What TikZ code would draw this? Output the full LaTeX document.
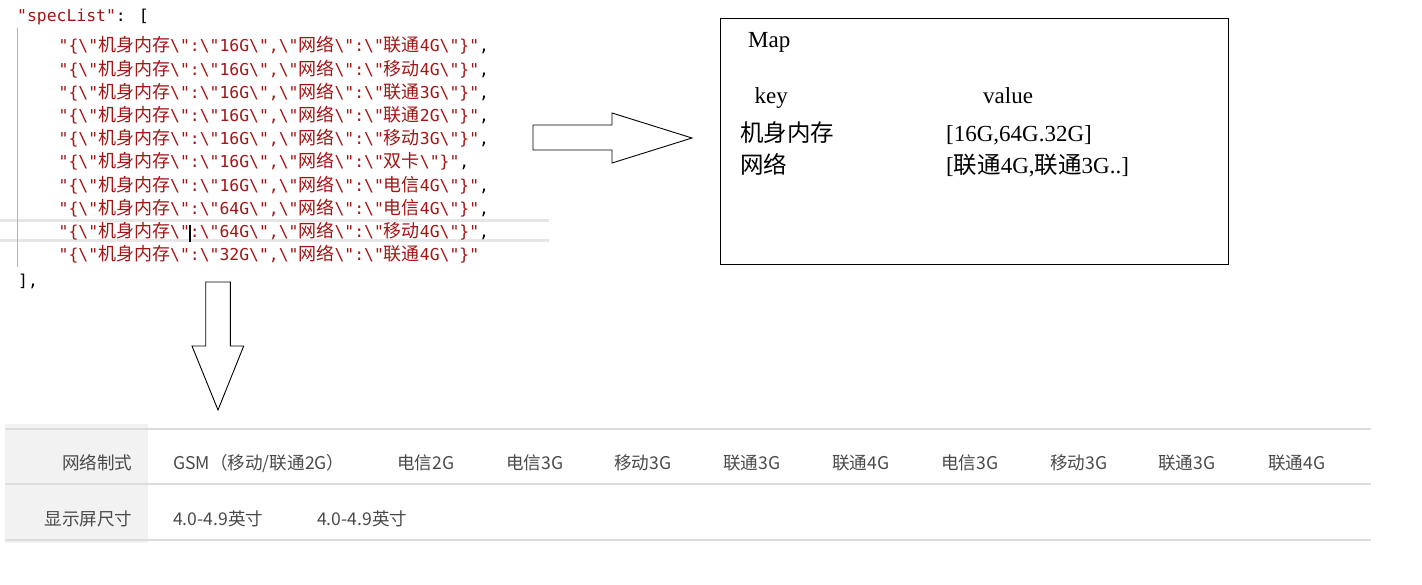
\documentclass[tikz,border=0pt]{standalone}
\usepackage{fontspec}
\setmainfont{Liberation Serif}
\newfontfamily\codefont{DejaVu Sans Mono}[Ligatures=TeXOff]
\newfontfamily\cjkfont{Noto Sans CJK SC}[Ligatures=TeXOff]
\newfontfamily\mapfont{Liberation Serif}[Ligatures=TeXOff]
\definecolor{codered}{HTML}{A31515}
\definecolor{guide}{HTML}{B4B4B4}
\definecolor{hl}{HTML}{E6E6E6}
\definecolor{tline}{HTML}{DCDCDC}
\definecolor{tfill}{HTML}{F2F2F2}
\definecolor{ttext}{HTML}{4A4A4A}
\newcommand\cj[1]{{\cjkfont\fontsize{18}{18}\selectfont #1}}
\newcommand\mc[1]{{\cjkfont\fontsize{23.5}{23.5}\selectfont #1}}
\newcommand\jq{\textbackslash"}
\newcommand\specline[3]{\textcolor{codered}{"\{\jq\cj{机身内存}\jq:\jq #1\jq,\jq\cj{网络}\jq:\jq #2\jq\}"}#3}
\tikzset{
  codetxt/.style={anchor=base west, inner sep=0pt, font=\codefont\fontsize{16.4}{18}\selectfont},
  maptxt/.style={anchor=base west, inner sep=0pt, font=\mapfont\fontsize{23}{23}\selectfont},
  ttxt/.style={anchor=base west, inner sep=0pt, text=ttext, font=\cjkfont\fontsize{17.6}{17.6}\selectfont},
  hdtxt/.style={ttxt, anchor=base east},
  blockarrow/.style={draw=black, line width=0.9pt, line join=miter},
  tablerule/.style={draw=tline, line width=2pt},
}
\begin{document}
\begin{tikzpicture}[x=1pt, y=-1pt]
\useasboundingbox (0,0) rectangle (1422,584);
\fill[white] (0,0) rectangle (1422,584);

% editor current-line highlight and indent guide
\draw[hl, line width=2.5pt] (0,220.3) -- (549,220.3);
\draw[hl, line width=2.5pt] (0,240.7) -- (549,240.7);
\draw[guide, line width=1.6pt] (17.5,28) -- (17.5,267);

% code
\node[codetxt] (spec) at (17,21) {\textcolor{codered}{"specList"}: [};
\node[codetxt] (l1) at (58.5,51.8) {\specline{16G}{\cj{联通}4G}{,}};
\node[codetxt] (l2) at (58.5,75.0) {\specline{16G}{\cj{移动}4G}{,}};
\node[codetxt] (l3) at (58.5,98.2) {\specline{16G}{\cj{联通}3G}{,}};
\node[codetxt] (l4) at (58.5,121.4) {\specline{16G}{\cj{联通}2G}{,}};
\node[codetxt] (l5) at (58.5,144.6) {\specline{16G}{\cj{移动}3G}{,}};
\node[codetxt] (l6) at (58.5,167.8) {\specline{16G}{\cj{双卡}}{,}};
\node[codetxt] (l7) at (58.5,191.0) {\specline{16G}{\cj{电信}4G}{,}};
\node[codetxt] (l8) at (58.5,214.2) {\specline{64G}{\cj{电信}4G}{,}};
\node[codetxt] (l9) at (58.5,237.4) {\textcolor{codered}{"\{\jq\cj{机身内存}\jq\rlap{\kern-1.3pt\textcolor{black}{\rule[-5pt]{2.6pt}{17pt}}}:\jq 64G\jq,\jq\cj{网络}\jq:\jq\cj{移动}4G\jq\}"},};
\node[codetxt] (l10) at (58.5,260.6) {\specline{32G}{\cj{联通}4G}{}};
\node[codetxt] (close) at (18,286) {],};

% right block arrow
\draw[blockarrow] (533,125) -- (612,125) -- (612,113) -- (692,138) -- (612,163) -- (612,150) -- (533,150) -- cycle;
% down block arrow
\draw[blockarrow] (205.7,282) -- (230.3,282) -- (230.3,346) -- (243.7,346) -- (218,410) -- (192,346) -- (205.7,346) -- cycle;

% map box
\node[draw=black, line width=1pt, anchor=north west, minimum width=508pt, minimum height=246pt, inner sep=0pt] (map) at (720,18) {};
\node[maptxt] (maptitle) at (748,47.5) {Map};
\node[maptxt] (key) at (754.5,103) {key};
\node[maptxt] (value) at (983,103) {value};
\node[maptxt] (k1) at (740,141) {\mc{机身内存}};
\node[maptxt] (v1) at (946,141) {[16G,64G.32G]};
\node[maptxt] (k2) at (740,173) {\mc{网络}};
\node[maptxt] (v2) at (946,173) {[\mc{联通}4G,\mc{联通}3G..]};

% table
\fill[tfill] (4.5,424) rectangle (148,543);
\draw[tablerule] (4.5,429) -- (1371,429);
\draw[tablerule] (4.5,484) -- (1371,484);
\draw[tablerule] (4.5,540) -- (1371,540);
\node[hdtxt] (h1) at (132.6,469.7) {网络制式};
\node[hdtxt] (h2) at (132.6,525.7) {显示屏尺寸};
\node[ttxt] (c1) at (173,469.7) {GSM（移动/联通2G）};
\node[ttxt] (c2) at (397,469.7) {电信2G};
\node[ttxt] (c3) at (506,469.7) {电信3G};
\node[ttxt] (c4) at (614,469.7) {移动3G};
\node[ttxt] (c5) at (723,469.7) {联通3G};
\node[ttxt] (c6) at (832,469.7) {联通4G};
\node[ttxt] (c7) at (941,469.7) {电信3G};
\node[ttxt] (c8) at (1050,469.7) {移动3G};
\node[ttxt] (c9) at (1158,469.7) {联通3G};
\node[ttxt] (c10) at (1268,469.7) {联通4G};
\node[ttxt] (d1) at (173,525.7) {4.0-4.9英寸};
\node[ttxt] (d2) at (317,525.7) {4.0-4.9英寸};
\end{tikzpicture}
\end{document}
